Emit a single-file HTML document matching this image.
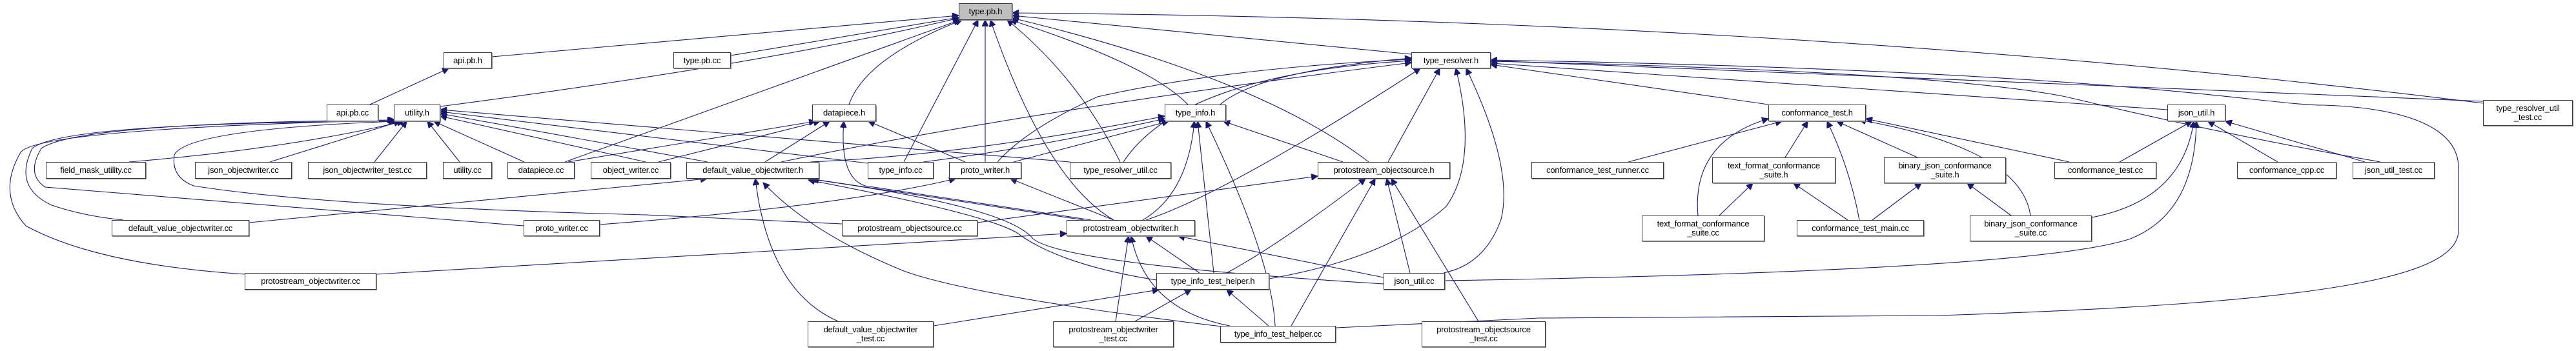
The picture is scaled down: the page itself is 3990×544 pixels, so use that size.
<!DOCTYPE html>
<html><head><meta charset="utf-8"><style>
html,body{margin:0;padding:0;background:#fff;width:3990px;height:544px;overflow:hidden;position:relative}
.n{position:absolute;box-sizing:border-box;border:1px solid #3a3a3a;box-shadow:1px 1px 0 #888;background:#fff;font-family:"Liberation Sans",sans-serif;font-size:13px;color:#000;text-align:center;display:flex;align-items:center;justify-content:center;line-height:14px;white-space:nowrap;letter-spacing:-0.2px}
svg{position:absolute;left:0;top:0}
path{fill:none;stroke:#191970;stroke-width:1.1;marker-start:url(#a)}
</style></head><body>
<svg width="3990" height="544" viewBox="0 0 3990 544">
<defs><marker id="a" markerUnits="userSpaceOnUse" markerWidth="11" markerHeight="10" refX="10" refY="5" orient="auto-start-reverse"><path d="M0,0 L10,5 L0,10 z" style="fill:#191970;stroke:#191970;marker-start:none"/></marker></defs>
<!-- to type.pb.h -->
<path d="M1485,24 L762,88"/>
<path d="M1485,27 L1132,86"/>
<path d="M1485,28 Q1180,100 682,165"/>
<path d="M1487,31 L875,251"/>
<path d="M1490,31 Q1340,90 1315,162"/>
<path d="M1515,31 L1400,251"/>
<path d="M1526,31 L1526,251"/>
<path d="M1534,31 Q1620,280 1725,341"/>
<path d="M1560,31 Q1670,120 1735,251"/>
<path d="M1565,31 Q1780,100 1840,162"/>
<path d="M1568,28 Q1950,120 2120,251"/>
<path d="M1568,24 L2186,84"/>
<path d="M1568,20 Q2800,30 3846,160"/>
<path d="M695,106 L573,162"/>
<!-- utility.h -->
<path d="M625,188 Q450,230 200,251"/>
<path d="M620,188 L418,251"/>
<path d="M630,188 L580,251"/>
<path d="M662,188 L712,251"/>
<path d="M672,188 L812,251"/>
<path d="M682,180 L1000,251"/>
<path d="M682,176 L1096,251"/>
<path d="M682,173 L1344,253"/>
<path d="M682,170 L1657,251"/>
<path d="M612,188 Q96,190 50,230 Q20,290 80,318 Q130,335 191,341"/>
<path d="M612,186 Q120,190 64,230 Q40,270 70,290 L811,350"/>
<path d="M610,186 Q60,200 32,236 Q-5,300 40,350 Q150,410 379,425"/>
<path d="M614,188 Q290,200 270,240 Q265,275 300,288 Q500,320 1000,333 L1304,347"/>
<!-- datapiece.h -->
<path d="M1263,188 L880,251"/>
<path d="M1270,188 L1020,251"/>
<path d="M1285,188 L1185,251"/>
<path d="M1345,188 L1495,251"/>
<path d="M1307,188 Q1300,275 1340,288 L1690,341"/>
<!-- type_info.h -->
<path d="M1804,180 Q1500,240 1255,251"/>
<path d="M1804,184 Q1600,230 1430,251"/>
<path d="M1810,188 L1570,251"/>
<path d="M1850,188 Q1840,300 1770,341"/>
<path d="M1855,188 L1880,423"/>
<path d="M1868,188 Q1970,400 1975,505"/>
<path d="M1895,188 L2080,251"/>
<!-- type_resolver.h -->
<path d="M2186,90 Q1950,110 1890,162"/>
<path d="M2186,92 Q1900,105 1700,150 Q1590,200 1545,251"/>
<path d="M2186,94 Q1830,115 1740,251"/>
<path d="M2186,97 Q1600,170 1210,251"/>
<path d="M2200,106 Q1900,300 1775,341"/>
<path d="M2230,106 L2150,251"/>
<path d="M2255,106 Q2290,250 2240,320 Q2150,400 1966,432"/>
<path d="M2271,106 Q2345,260 2325,340 Q2300,410 2236,423"/>
<path d="M2309,100 L2739,162"/>
<path d="M2309,98 L3357,170"/>
<path d="M2309,95 Q3000,110 3200,150 Q3450,210 3687,251"/>
<path d="M2309,94 L3846,157"/>
<path d="M2309,93 C3300,110 3500,163 3600,163 C3790,170 3808,230 3808,260 L3808,357 C3808,430 3600,470 3000,489 L2383,493 L2069,508"/>
<!-- json_util.h -->
<path d="M3398,188 Q3380,310 3240,337"/>
<path d="M3402,188 Q3400,330 3300,370 Q3150,420 2238,435"/>
<path d="M3395,188 L3283,251"/>
<path d="M3420,188 L3528,251"/>
<path d="M3447,188 L3663,251"/>
<!-- conformance_test.h -->
<path d="M2760,188 L2522,251"/>
<path d="M2739,184 Q2620,220 2630,334"/>
<path d="M2800,188 L2765,244"/>
<path d="M2830,188 Q2865,260 2880,341"/>
<path d="M2845,188 L2970,244"/>
<path d="M2880,186 Q3130,230 3145,334"/>
<path d="M2890,184 L3205,251"/>
<path d="M2715,284 L2663,334"/>
<path d="M2778,284 L2862,341"/>
<path d="M2976,284 L2900,341"/>
<path d="M3047,284 L3115,334"/>
<!-- proto_writer.h -->
<path d="M1480,277 Q1300,320 929,348"/>
<path d="M1565,277 L1725,341"/>
<!-- dvow.h -->
<path d="M1095,277 L386,345"/>
<path d="M1255,277 L1679,341"/>
<path d="M1252,279 Q1520,330 1574,360 Q1640,410 1791,434"/>
<path d="M1258,278 Q1560,320 1600,370 Q1650,410 2143,440"/>
<path d="M1170,277 Q1190,450 1298,498"/>
<path d="M1182,283 Q1255,361 1400,420 Q1510,460 1900,507"/>
<!-- powh -->
<path d="M1652,362 L583,425"/>
<path d="M1775,366 L1858,423"/>
<path d="M1748,366 L1728,498"/>
<path d="M1752,366 Q1775,480 1905,505"/>
<path d="M1825,366 L2143,430"/>
<!-- posh -->
<path d="M2041,273 L1514,345"/>
<path d="M2115,277 Q1980,380 1900,423"/>
<path d="M2148,277 L2184,423"/>
<path d="M2155,277 L2290,498"/>
<path d="M2130,277 L2000,505"/>
<!-- tithelper.h -->
<path d="M1795,449 L1446,505"/>
<path d="M1845,449 L1758,498"/>
<path d="M1900,449 L1965,505"/>
</svg>
<div class="n" style="left:1485px;top:5px;width:83px;height:26px;background:#bfbfbf">type.pb.h</div>
<div class="n" style="left:687px;top:81px;width:75px;height:25px">api.pb.h</div>
<div class="n" style="left:1043px;top:81px;width:89px;height:25px">type.pb.cc</div>
<div class="n" style="left:2186px;top:81px;width:123px;height:25px">type_resolver.h</div>
<div class="n" style="left:506px;top:162px;width:80px;height:26px">api.pb.cc</div>
<div class="n" style="left:610px;top:162px;width:72px;height:26px">utility.h</div>
<div class="n" style="left:1258px;top:162px;width:99px;height:26px">datapiece.h</div>
<div class="n" style="left:1804px;top:162px;width:95px;height:26px">type_info.h</div>
<div class="n" style="left:2739px;top:162px;width:151px;height:26px">conformance_test.h</div>
<div class="n" style="left:3357px;top:162px;width:90px;height:26px">json_util.h</div>
<div class="n" style="left:3846px;top:155px;width:139px;height:40px">type_resolver_util<br>_test.cc</div>
<div class="n" style="left:71px;top:251px;width:155px;height:26px">field_mask_utility.cc</div>
<div class="n" style="left:302px;top:251px;width:150px;height:26px">json_objectwriter.cc</div>
<div class="n" style="left:477px;top:251px;width:184px;height:26px">json_objectwriter_test.cc</div>
<div class="n" style="left:686px;top:251px;width:76px;height:26px">utility.cc</div>
<div class="n" style="left:786px;top:251px;width:104px;height:26px">datapiece.cc</div>
<div class="n" style="left:915px;top:251px;width:124px;height:26px">object_writer.cc</div>
<div class="n" style="left:1063px;top:251px;width:206px;height:26px">default_value_objectwriter.h</div>
<div class="n" style="left:1344px;top:251px;width:102px;height:26px">type_info.cc</div>
<div class="n" style="left:1470px;top:251px;width:112px;height:26px">proto_writer.h</div>
<div class="n" style="left:1657px;top:251px;width:157px;height:26px">type_resolver_util.cc</div>
<div class="n" style="left:2041px;top:251px;width:205px;height:26px">protostream_objectsource.h</div>
<div class="n" style="left:2372px;top:251px;width:205px;height:26px">conformance_test_runner.cc</div>
<div class="n" style="left:3182px;top:251px;width:158px;height:26px">conformance_test.cc</div>
<div class="n" style="left:3465px;top:251px;width:154px;height:26px">conformance_cpp.cc</div>
<div class="n" style="left:3644px;top:251px;width:127px;height:26px">json_util_test.cc</div>
<div class="n" style="left:2652px;top:244px;width:191px;height:40px">text_format_conformance<br>_suite.h</div>
<div class="n" style="left:2918px;top:244px;width:189px;height:40px">binary_json_conformance<br>_suite.h</div>
<div class="n" style="left:173px;top:341px;width:213px;height:25px">default_value_objectwriter.cc</div>
<div class="n" style="left:811px;top:341px;width:118px;height:25px">proto_writer.cc</div>
<div class="n" style="left:1304px;top:341px;width:210px;height:25px">protostream_objectsource.cc</div>
<div class="n" style="left:1652px;top:341px;width:199px;height:25px">protostream_objectwriter.h</div>
<div class="n" style="left:2783px;top:341px;width:197px;height:25px">conformance_test_main.cc</div>
<div class="n" style="left:2543px;top:334px;width:190px;height:40px">text_format_conformance<br>_suite.cc</div>
<div class="n" style="left:3051px;top:334px;width:189px;height:40px">binary_json_conformance<br>_suite.cc</div>
<div class="n" style="left:379px;top:423px;width:204px;height:26px">protostream_objectwriter.cc</div>
<div class="n" style="left:1791px;top:423px;width:175px;height:26px">type_info_test_helper.h</div>
<div class="n" style="left:2143px;top:423px;width:95px;height:26px">json_util.cc</div>
<div class="n" style="left:1251px;top:498px;width:195px;height:40px">default_value_objectwriter<br>_test.cc</div>
<div class="n" style="left:1631px;top:498px;width:187px;height:40px">protostream_objectwriter<br>_test.cc</div>
<div class="n" style="left:1890px;top:505px;width:179px;height:26px">type_info_test_helper.cc</div>
<div class="n" style="left:2202px;top:498px;width:192px;height:40px">protostream_objectsource<br>_test.cc</div>
</body></html>
